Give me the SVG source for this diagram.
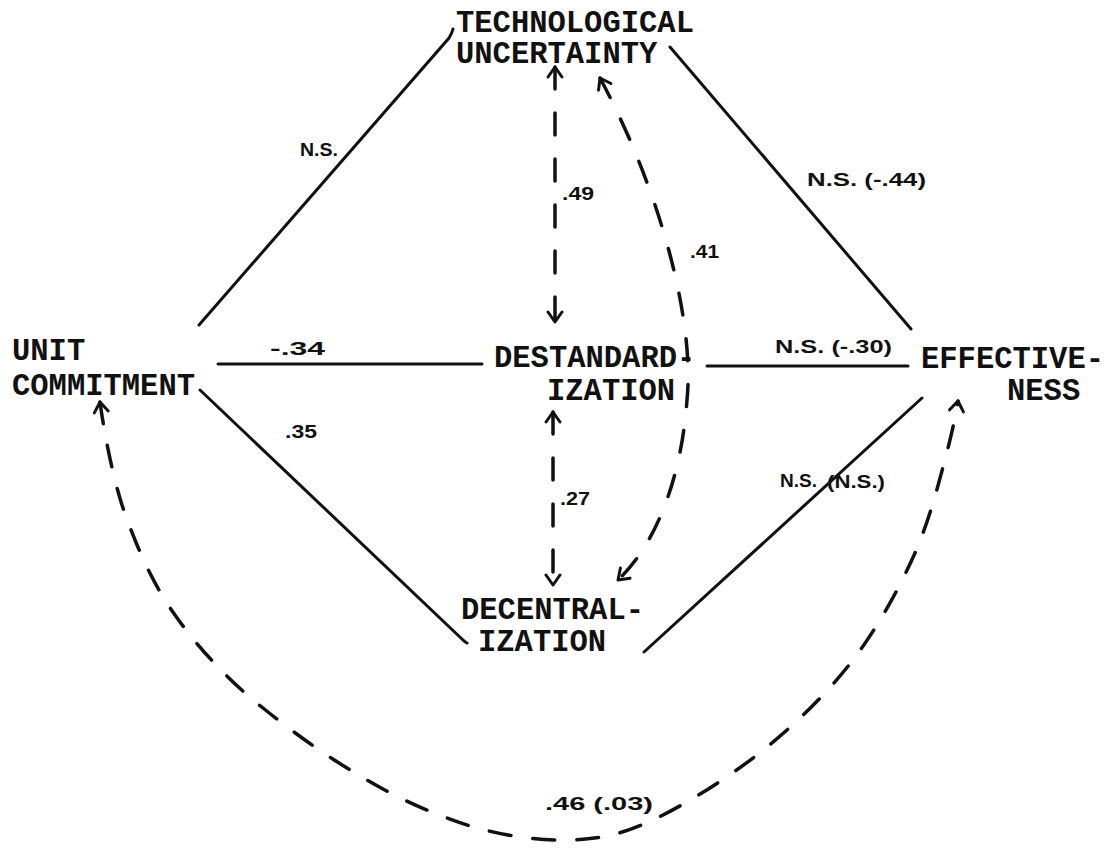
<svg xmlns="http://www.w3.org/2000/svg" width="1105" height="850" viewBox="0 0 1105 850">
<style>
.node{font-family:"Liberation Mono","Courier New",monospace;font-weight:bold;font-size:30.5px;fill:#111}
.lab{font-family:"Liberation Sans",Arial,sans-serif;font-weight:bold;font-size:19px;fill:#111}
.solid{fill:none;stroke:#111;stroke-width:3;stroke-linecap:round}
.dash{fill:none;stroke:#111;stroke-width:3.5;stroke-linecap:round;stroke-dasharray:22 24}
.arc{fill:none;stroke:#111;stroke-width:3.5;stroke-linecap:round;stroke-dasharray:22 22}
</style>
<defs>
<marker id="ah" viewBox="-13 -9 15 18" refX="0" refY="0" markerWidth="15" markerHeight="18" markerUnits="userSpaceOnUse" orient="auto-start-reverse">
<path d="M-10,-7 L0,0 L-10,7" fill="none" stroke="#111" stroke-width="3" stroke-linecap="round" stroke-linejoin="round"/>
</marker>
</defs>
<rect width="1105" height="850" fill="#fff"/>

<g id="connectors">
<path class="solid" d="M199,325 L449,38 Q452,33 453,29"/>
<path class="solid" d="M670,47 L911,329"/>
<path class="solid" d="M218,364 L482,364"/>
<path class="solid" d="M707,366 L908,366"/>
<path class="solid" d="M200,390 L463,640 Q465,642 467,643"/>
<path class="solid" d="M644,652 L922,398"/>
<path class="dash" d="M555,67 L555,322" marker-start="url(#ah)" marker-end="url(#ah)"/>
<path class="dash" d="M553,412 L553,585" marker-start="url(#ah)" marker-end="url(#ah)"/>
<path class="dash" d="M600,78 C660,190 695,320 687,400 C682,470 660,540 618,580" marker-start="url(#ah)" marker-end="url(#ah)"/>
<path class="arc" d="M100,402 C103,425 111,470 122,505 C134,540 150,580 175,615 C198,648 231,683 263,708 C295,734 332,760 367,780 C401,800 436,815 470,826 C504,836 539,841 570,840 C601,839 624,834 657,818 C690,802 734,774 767,747 C800,720 828,692 853,660 C878,627 900,587 915,553 C930,519 940,478 947,452 C953,428 956,414 958,401" marker-start="url(#ah)" marker-end="url(#ah)"/>
</g>

<g id="labels">
<text class="lab" x="300" y="156" font-size="16" textLength="38" lengthAdjust="spacingAndGlyphs">N.S.</text>
<text class="lab" x="562" y="200" textLength="32" lengthAdjust="spacingAndGlyphs">.49</text>
<text class="lab" x="690" y="258" textLength="29" lengthAdjust="spacingAndGlyphs">.41</text>
<text class="lab" x="807" y="186" textLength="119" lengthAdjust="spacingAndGlyphs">N.S. (-.44)</text>
<text class="lab" x="270" y="355" textLength="55" lengthAdjust="spacingAndGlyphs">-.34</text>
<text class="lab" x="775" y="353" textLength="117" lengthAdjust="spacingAndGlyphs">N.S. (-.30)</text>
<text class="lab" x="285" y="438" textLength="32" lengthAdjust="spacingAndGlyphs">.35</text>
<text class="lab" x="560" y="505" textLength="30" lengthAdjust="spacingAndGlyphs">.27</text>
<text class="lab" x="780" y="487" font-size="17" textLength="37" lengthAdjust="spacingAndGlyphs">N.S.</text>
<text class="lab" x="827" y="488" font-size="17" textLength="58" lengthAdjust="spacingAndGlyphs">(N.S.)</text>
<text class="lab" x="545" y="810" font-size="21" textLength="108" lengthAdjust="spacingAndGlyphs">.46 (.03)</text>
</g>

<g id="technological-uncertainty">
<text class="node" x="456" y="32">TECHNOLOGICAL</text>
<text class="node" x="456" y="63">UNCERTAINTY</text>
</g>
<g id="unit-commitment">
<text class="node" x="12" y="360">UNIT</text>
<text class="node" x="12" y="395">COMMITMENT</text>
</g>
<g id="destandardization">
<text class="node" x="494" y="367">DESTANDARD-</text>
<text class="node" x="547" y="400">IZATION</text>
</g>
<g id="effectiveness">
<text class="node" x="921" y="368">EFFECTIVE-</text>
<text class="node" x="1007" y="400">NESS</text>
</g>
<g id="decentralization">
<text class="node" x="461" y="619">DECENTRAL-</text>
<text class="node" x="478" y="651">IZATION</text>
</g>
</svg>
